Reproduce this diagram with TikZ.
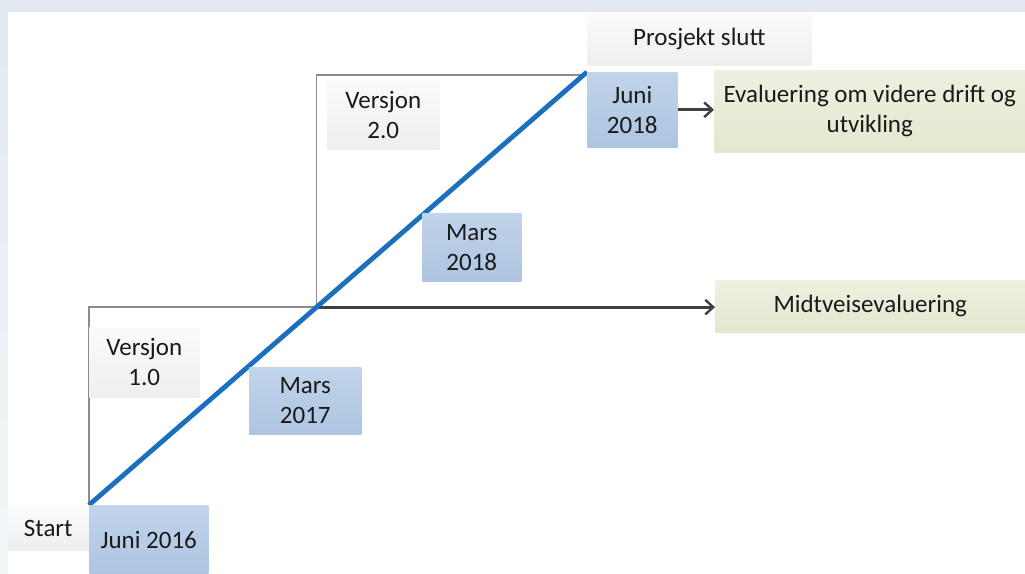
\documentclass[tikz,border=0pt]{standalone}
\usepackage{fontspec}
\setmainfont{Carlito}
\usetikzlibrary{arrows.meta,calc}
\pgfdeclarelayer{background}
\pgfsetlayers{background,main}
\definecolor{bgA}{HTML}{E2E9F0}
\definecolor{bgB}{HTML}{F2F6FA}
\definecolor{blueline}{HTML}{1A6FBF}
\definecolor{bluetop}{HTML}{C0D4EA}
\definecolor{bluebot}{HTML}{ADC5E1}
\definecolor{graytop}{HTML}{FBFBFB}
\definecolor{graybot}{HTML}{EEEEEE}
\definecolor{greentop}{HTML}{EDF1E0}
\definecolor{greenbot}{HTML}{E2E8CF}
\definecolor{bracketgray}{HTML}{8C8C8C}
\definecolor{arrowgray}{HTML}{404040}
\definecolor{txt}{HTML}{1A1A1A}
\tikzset{
  box/.style={rectangle, anchor=north west, inner sep=0pt, align=center,
    text=txt, font=\fontsize{18.75}{22.5}\selectfont},
  bluebox/.style={box, top color=bluetop, bottom color=bluebot},
  graybox/.style={box, top color=graytop, bottom color=graybot},
  greenbox/.style={box, top color=greentop, bottom color=greenbot},
  bracket/.style={draw=bracketgray, line width=1.1pt},
  arr/.style={draw=arrowgray, line width=2.1pt, -{Straight Barb[length=6pt,width=11pt,line width=1.8pt]}},
  timeline/.style={draw=blueline, line width=3.6pt}
}
\begin{document}
\begin{tikzpicture}[x=0.75pt,y=-0.75pt]
\useasboundingbox (0,0) rectangle (1025,574);

% boxes (positions only)
\node[graybox, minimum width=168pt, minimum height=39pt] (slutt) at (587,13) {Prosjekt slutt};
\node[bluebox, minimum width=67.5pt, minimum height=56.25pt] (j18) at (587,72) {Juni\\2018};
\node[greenbox, minimum width=233.25pt, minimum height=61.5pt] (eval) at (714,70) {Evaluering om videre drift og\\utvikling};
\node[graybox, minimum width=84pt, minimum height=51.75pt] (v20) at (327,80) {Versjon\\2.0};
\node[bluebox, minimum width=74.25pt, minimum height=51pt] (m18) at (422,213) {Mars\\2018};
\node[greenbox, minimum width=232.5pt, minimum height=39pt] (mid) at (715,280) {Midtveisevaluering};
\node[graybox, minimum width=82.5pt, minimum height=52.5pt] (v10) at (89,327) {Versjon\\1.0};
\node[bluebox, minimum width=84pt, minimum height=50.25pt] (m17) at (249,367) {Mars\\2017};
\node[graybox, minimum width=60pt, minimum height=32.25pt] (start) at (8,507) {Start};
\node[bluebox, minimum width=89.25pt, minimum height=52pt] (j16) at (89,505) {Juni 2016};

% key points on the timeline
\coordinate (m) at ($(j16.north west)!0.457!(j18.north west)$);
\coordinate (top) at (585,75);

\begin{pgfonlayer}{background}
\shade[top color=bgA, bottom color=bgB] (0,0) rectangle (1025,574);
\fill[white] (8,12) rectangle (1025,574);
\draw[bracket] (j16.north west) |- (m);
\draw[bracket] (m) |- (top);
\draw[arr] (m) -- (m -| mid.west);
\draw[arr] (j18.east) -- (j18.east -| eval.west);
\draw[timeline] (j16.north west) -- (j18.north west);
\end{pgfonlayer}
\end{tikzpicture}
\end{document}
